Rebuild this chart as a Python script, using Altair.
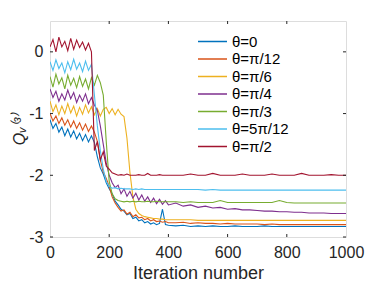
import altair as alt
import pandas as pd

# iterations
X_EARLY = list(range(0, 401, 10))
X_LATE = list(range(425, 1001, 25))

names = ["θ=0", "θ=π/12", "θ=π/6", "θ=π/4", "θ=π/3", "θ=5π/12", "θ=π/2"]
colors = ["#0072BD", "#D95319", "#EDB120", "#7E2F8E", "#77AC30", "#4DBEEE", "#A2142F"]

s0_early = [-1.10, -1.24, -1.16, -1.30, -1.22, -1.36, -1.25, -1.38, -1.28, -1.41,
            -1.32, -1.44, -1.34, -1.46, -1.36, -1.47, -1.70, -1.88, -1.98, -2.12,
            -2.22, -2.30, -2.42, -2.48, -2.55, -2.58, -2.64, -2.62, -2.70, -2.68,
            -2.74, -2.72, -2.77, -2.75, -2.79, -2.77, -2.80, -2.78, -2.55, -2.80, -2.81]
s0_late = [-2.82, -2.81, -2.83, -2.82, -2.83, -2.82, -2.83, -2.83, -2.82, -2.83,
           -2.83, -2.83, -2.82, -2.83, -2.83, -2.83, -2.83, -2.83, -2.83, -2.83,
           -2.83, -2.83, -2.83, -2.83]

s1_early = [-1.00, -1.12, -1.04, -1.16, -1.07, -1.19, -1.10, -1.22, -1.12, -1.24,
            -1.15, -1.27, -1.17, -1.29, -1.20, -1.30, -1.45, -1.75, -1.95, -2.05,
            -2.18, -2.35, -2.45, -2.52, -2.58, -2.56, -2.63, -2.60, -2.67, -2.64,
            -2.69, -2.68, -2.72, -2.70, -2.74, -2.72, -2.75, -2.74, -2.76, -2.75, -2.77]
s1_late = [-2.77, -2.76, -2.78, -2.77, -2.78, -2.78, -2.79, -2.78, -2.79, -2.79,
           -2.79, -2.79, -2.80, -2.79, -2.80, -2.80, -2.80, -2.80, -2.80, -2.80,
           -2.80, -2.80, -2.80, -2.80]

s2_early = [-0.80, -0.97, -0.86, -1.02, -0.88, -1.00, -0.84, -0.99, -0.88, -1.04,
            -0.90, -1.01, -0.86, -0.99, -0.89, -1.02, -0.92, -1.04, -0.93, -0.90,
            -1.00, -0.92, -1.02, -0.93, -1.01, -1.05, -1.40, -1.95, -2.35, -2.55,
            -2.62, -2.65, -2.67, -2.68, -2.69, -2.70, -2.70, -2.71, -2.71, -2.72, -2.72]
s2_late = [-2.72, -2.72, -2.72, -2.73, -2.73, -2.73, -2.73, -2.73, -2.73, -2.73,
           -2.73, -2.73, -2.73, -2.73, -2.73, -2.73, -2.73, -2.73, -2.73, -2.73,
           -2.73, -2.73, -2.73, -2.73]

s3_early = [-0.60, -0.74, -0.64, -0.80, -0.68, -0.78, -0.62, -0.76, -0.66, -0.82,
            -0.70, -0.80, -0.68, -0.84, -0.74, -0.86, -0.95, -1.20, -1.50, -1.80,
            -2.00, -2.12, -2.20, -2.16, -2.30, -2.22, -2.34, -2.26, -2.37, -2.29,
            -2.40, -2.32, -2.42, -2.35, -2.44, -2.37, -2.46, -2.39, -2.47, -2.41, -2.48]
s3_late = [-2.45, -2.50, -2.48, -2.52, -2.50, -2.53, -2.52, -2.55, -2.54, -2.56,
           -2.56, -2.57, -2.58, -2.58, -2.59, -2.59, -2.60, -2.60, -2.61, -2.61,
           -2.61, -2.62, -2.62, -2.62]

s4_early = [-0.40, -0.57, -0.36, -0.52, -0.42, -0.60, -0.38, -0.54, -0.43, -0.58,
            -0.40, -0.56, -0.44, -0.60, -0.42, -0.54, -0.38, -0.50, -0.70, -1.45,
            -2.10, -2.30, -2.38, -2.41, -2.42, -2.43, -2.42, -2.43, -2.42, -2.43,
            -2.42, -2.43, -2.43, -2.42, -2.43, -2.43, -2.42, -2.43, -2.43, -2.43, -2.43]
s4_late = [-2.43, -2.44, -2.43, -2.44, -2.44, -2.44, -2.41, -2.44, -2.44, -2.44,
           -2.44, -2.44, -2.44, -2.44, -2.41, -2.44, -2.45, -2.45, -2.45, -2.45,
           -2.45, -2.45, -2.45, -2.45]

s5_early = [-0.16, -0.30, -0.13, -0.27, -0.18, -0.34, -0.16, -0.29, -0.12, -0.28,
            -0.18, -0.32, -0.15, -0.30, -0.20, -0.70, -1.20, -1.60, -1.90, -2.10,
            -2.18, -2.21, -2.20, -2.22, -2.21, -2.22, -2.22, -2.22, -2.23, -2.22,
            -2.23, -2.22, -2.23, -2.23, -2.23, -2.23, -2.23, -2.23, -2.23, -2.23, -2.23]
s5_late = [-2.23, -2.23, -2.23, -2.23, -2.24, -2.23, -2.24, -2.24, -2.24, -2.24,
           -2.24, -2.24, -2.24, -2.24, -2.24, -2.24, -2.24, -2.24, -2.24, -2.24,
           -2.24, -2.24, -2.24, -2.24]

s6_early = [0.08, 0.20, 0.00, 0.24, 0.08, 0.17, 0.02, 0.22, 0.04, 0.19,
            0.07, 0.16, 0.03, 0.14, 0.00, -1.60, -1.45, -1.75, -1.62, -1.85,
            -1.90, -1.96, -1.98, -2.00, -1.99, -2.00, -1.98, -2.00, -2.00, -2.00,
            -1.99, -2.00, -2.00, -1.97, -2.00, -2.00, -2.00, -1.99, -2.00, -2.00, -2.00]
s6_late = [-2.00, -2.00, -1.98, -2.00, -2.00, -1.97, -2.00, -2.00, -2.00, -1.98,
           -2.00, -2.00, -2.00, -1.98, -2.00, -2.00, -2.00, -1.97, -2.00, -2.00,
           -2.00, -1.99, -2.00, -2.00]

series_early = [s0_early, s1_early, s2_early, s3_early, s4_early, s5_early, s6_early]
series_late = [s0_late, s1_late, s2_late, s3_late, s4_late, s5_late, s6_late]

x_labels = [0, 200, 400, 600, 800, 1000]
x_ticks = [200, 400, 600, 800]
y_ticks = [-3, -2, -1, 0]

rows = []
for i, name in enumerate(names):
    for x, v in zip(X_EARLY + X_LATE, series_early[i] + series_late[i]):
        rows.append({"it": x, "q": v, "theta": name, "k": i})
df = pd.DataFrame(rows)

FONT = "Liberation Sans"
W, H = 296, 216
xscale = alt.Scale(domain=[0, 1000], nice=False)
yscale = alt.Scale(domain=[-3, 0.5], nice=False, zero=False)

xaxis = alt.Axis(values=x_labels, format="d", ticks=False, domain=False,
                 grid=False, labelFontSize=16, titleFontSize=18, labelPadding=7,
                 titlePadding=4, labelColor="#262626", titleColor="#262626",
                 labelFlush=False, labelOverlap=False,
                 labelFont=FONT, titleFont=FONT, titleFontWeight="normal")
yaxis = alt.Axis(values=y_ticks, format="d", ticks=False, domain=False, grid=False,
                 labelExpr="replace(datum.label, '−', '-')",
                 labelFlush=False, labelOverlap=False,
                 labelFontSize=16, titleFontSize=16, labelPadding=7,
                 titlePadding=1, labelColor="#262626", titleColor="#262626",
                 labelFont=FONT, titleFont=FONT, titleFontWeight="normal",
                 titleFontStyle="italic")
XT = "Iteration number"
YT = "Qᵥ⁽³⁾"

lines = alt.Chart(df).mark_line(strokeWidth=1.1, clip=True).encode(
    x=alt.X("it:Q", scale=xscale, title=XT, axis=xaxis),
    y=alt.Y("q:Q", scale=yscale, title=YT, axis=yaxis),
    color=alt.Color("theta:N", scale=alt.Scale(domain=names, range=colors),
                    legend=alt.Legend(orient="none", legendX=147, legendY=13, title=None,
                                      symbolType="stroke", symbolSize=841,
                                      symbolStrokeWidth=1.5, labelFontSize=15,
                                      labelFont=FONT, labelColor="#000000",
                                      labelOffset=4, rowPadding=1.5, padding=0,
                                      clipHeight=15)),
    order=alt.Order("k:Q"),
    detail="theta:N",
)

xt = pd.DataFrame({"t": x_ticks})
yt = pd.DataFrame({"t": y_ticks})
tick_color = "#262626"
xb = alt.Chart(xt).mark_rule(color=tick_color, strokeWidth=1).encode(
    x=alt.X("t:Q", scale=xscale, title=XT, axis=xaxis), y=alt.value(H), y2=alt.value(H - 3))
xtop = alt.Chart(xt).mark_rule(color=tick_color, strokeWidth=1).encode(
    x=alt.X("t:Q", scale=xscale, title=XT, axis=xaxis), y=alt.value(0), y2=alt.value(3))
yl = alt.Chart(yt).mark_rule(color=tick_color, strokeWidth=1).encode(
    y=alt.Y("t:Q", scale=yscale, title=YT, axis=yaxis), x=alt.value(0), x2=alt.value(3))
yr = alt.Chart(yt).mark_rule(color=tick_color, strokeWidth=1).encode(
    y=alt.Y("t:Q", scale=yscale, title=YT, axis=yaxis), x=alt.value(W), x2=alt.value(W - 3))

chart = alt.layer(lines, xb, xtop, yl, yr).properties(
    width=W, height=H,
    autosize=alt.AutoSizeParams(type="none"),
    padding={"left": 42, "top": 13, "right": 28, "bottom": 44},
).configure_view(stroke="#262626", strokeWidth=1).configure(background="white")

chart.save("out.html", embed_options={"renderer": "svg", "actions": False})
